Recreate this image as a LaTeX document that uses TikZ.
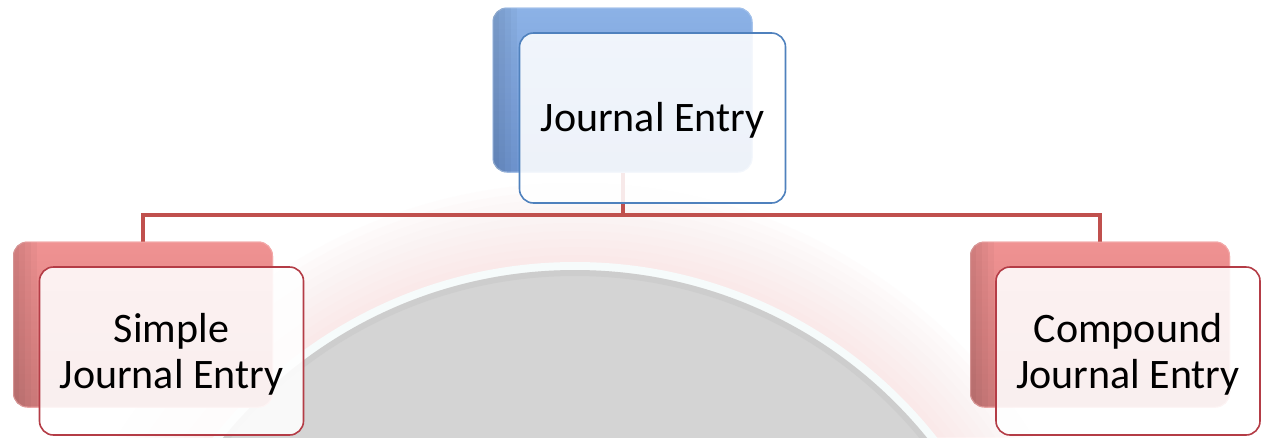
\documentclass[tikz,border=0pt]{standalone}
\usepackage{fontspec}
\setmainfont{Carlito}
\definecolor{lineRed}{RGB}{192,80,77}
\definecolor{blueTop}{RGB}{140,178,230}
\definecolor{blueBot}{RGB}{112,150,210}
\definecolor{blueBorder}{RGB}{79,129,189}
\definecolor{redTop}{RGB}{240,146,146}
\definecolor{redBot}{RGB}{208,124,124}
\definecolor{redBorder}{RGB}{180,60,70}
\definecolor{glowPink}{RGB}{250,205,205}
\definecolor{diskGray}{RGB}{212,212,212}
\definecolor{rimWhite}{RGB}{246,251,251}
\tikzset{
  backblue/.style={rectangle, rounded corners=14pt, minimum width=259pt, minimum height=164pt,
    top color=blueTop, bottom color=blueBot, draw=blueTop!80!white, line width=1pt},
  backred/.style={rectangle, rounded corners=14pt, minimum width=259pt, minimum height=165pt,
    top color=redTop, bottom color=redBot, draw=redTop!80!white, line width=1pt},
  frontbox/.style={rectangle, rounded corners=14pt, fill=white, fill opacity=0.88, line width=1.6pt},
  frontblue/.style={frontbox, draw=blueBorder, minimum width=266pt, minimum height=170pt},
  frontred/.style={frontbox, draw=redBorder, minimum width=264pt, minimum height=168pt},
  boxtext/.style={align=center, font=\fontsize{42}{46}\selectfont, inner sep=0pt},
  conn/.style={draw=lineRed, line width=4pt},
}
\newcommand{\bevelbox}[1]{%
  \begin{scope}
    \clip[rounded corners=14pt] (#1.north west) rectangle (#1.south east);
    \foreach \w in {6,12,18,24}{
      \fill[black, opacity=0.03] (#1.north west) rectangle ([xshift=\w pt]#1.south west);
    }
  \end{scope}}
\begin{document}
\begin{tikzpicture}[x=1pt,y=-1pt]
\useasboundingbox (0,0) rectangle (1261,437);
\clip (0,0) rectangle (1261,437);
\fill[white] (0,0) rectangle (1261,437);
% background disk with glow
\foreach \r in {540,532,...,462}{
  \fill[glowPink, opacity=0.045] (575,723) circle (\r pt);
}
\fill[rimWhite] (575,723) circle (461pt);
\fill[diskGray] (575,723) circle (453pt);
\draw[gray!60, opacity=0.2, line width=6pt] (575,723) circle (450pt);
% back boxes
\node[backblue] (jb) at (622.5,90) {};
\node[backred] (sb) at (143,324.5) {};
\node[backred] (cb) at (1100,324.5) {};
% connectors
\coordinate (hub) at (622.5,215);
\draw[conn] (jb.south) -- (hub);
\draw[conn] (sb.north) |- (hub);
\draw[conn] (cb.north) |- (hub);
% redraw back boxes over connector ends
\node[backblue] at (622.5,90) {};
\node[backred] at (143,324.5) {};
\node[backred] at (1100,324.5) {};
\bevelbox{jb}
\bevelbox{sb}
\bevelbox{cb}
% front boxes
\node[frontblue] (jf) at (652.5,118) {};
\node[frontred] (sf) at (171.5,351) {};
\node[frontred] (cf) at (1128,351) {};
% texts
\node[boxtext] (jt) at (652.5,120) {Journal Entry};
\node[boxtext] (st) at (171.5,354) {Simple\\Journal Entry};
\node[boxtext] (ct) at (1128,354) {Compound\\Journal Entry};
\end{tikzpicture}
\end{document}
